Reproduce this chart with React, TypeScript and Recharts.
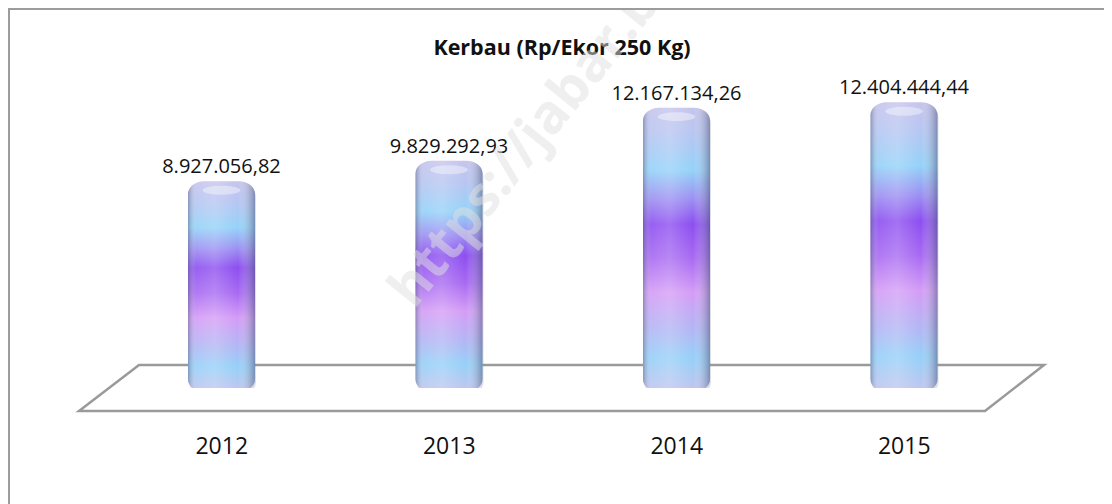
import React from 'react';
import { BarChart, Bar, XAxis, YAxis, LabelList } from 'recharts';

const years = ['2012', '2013', '2014', '2015'];
const prices = [8927056.82, 9829292.93, 12167134.26, 12404444.44];
const titleText = 'Kerbau (Rp/Ekor 250 Kg)';
const watermarkText = 'https://jabar.b';

const data = years.map((year, i) => ({ year, price: prices[i] }));

const W = 1104;
const H = 496;
const MARGIN = { top: 62, right: 94, left: 100, bottom: 0 };
const XAXIS_H = 116;
const FONT = '"Open Sans", "Noto Sans", sans-serif';

function formatId(v: number): string {
  const fixed = v.toFixed(2);
  const [intPart, dec] = fixed.split('.');
  const withDots = intPart.replace(/\B(?=(\d{3})+(?!\d))/g, '.');
  return withDots + ',' + dec;
}

const Cylinder = (props: any) => {
  const { x, y, width, height } = props;
  if (width == null || height == null) return null;
  const pad = 4;
  const top = y - pad;
  const h = height + pad * 2;
  return (
    <g>
      <rect x={x + 1} y={top + 3} width={width} height={h} rx={16} ry={13} fill="#7a7f99" opacity={0.25} />
      <rect x={x} y={top} width={width} height={h} rx={16} ry={13} fill="url(#cylV)" />
      <rect x={x} y={top} width={width} height={h} rx={16} ry={13} fill="url(#cylH)" />
      <ellipse cx={x + width / 2} cy={top + 9} rx={width * 0.28} ry={4.5} fill="#ffffff" opacity={0.4} />
    </g>
  );
};

const YearTick = (props: any) => {
  const { x, y, payload } = props;
  return (
    <text x={x} y={y + 58} dy="0.36em" textAnchor="middle" fontFamily={FONT} fontSize={23} fill="#111">
      {payload.value}
    </text>
  );
};

const ValueLabel = (props: any) => {
  const { x, y, width, value } = props;
  return (
    <text x={x + width / 2} y={y - 19} dy="0.36em" textAnchor="middle" fontFamily={FONT} fontSize={20} fill="#111">
      {formatId(value)}
    </text>
  );
};

export default function App() {
  return (
    <div style={{ position: 'relative', width: W, height: H }}>
      <svg width={W} height={H} style={{ position: 'absolute', left: 0, top: 0 }}>
        <polygon
          points="131,357 1036,357 977,403 71,403"
          fill="none"
          stroke="#9a9a9a"
          strokeWidth={2.5}
          strokeLinejoin="miter"
        />
        <text x={554} y={39} dy="0.36em" textAnchor="middle" fontFamily={FONT} fontWeight={700} fontSize={21.5} fill="#111">
          {titleText}
        </text>
      </svg>
      <div style={{ position: 'absolute', left: 0, top: 0 }}>
        <BarChart width={W} height={H} data={data} margin={MARGIN} barSize={67}>
          <defs>
            <linearGradient id="cylV" x1="0" y1="0" x2="0" y2="1">
              <stop offset="0%" stopColor="#c6c4ec" />
              <stop offset="10%" stopColor="#b6c6f2" />
              <stop offset="22%" stopColor="#94d2f8" />
              <stop offset="32%" stopColor="#9c90f2" />
              <stop offset="41%" stopColor="#8c4ef0" />
              <stop offset="53%" stopColor="#a86af2" />
              <stop offset="65%" stopColor="#d49cf6" />
              <stop offset="78%" stopColor="#b2b6f4" />
              <stop offset="88%" stopColor="#96d0f8" />
              <stop offset="100%" stopColor="#c4c4ee" />
            </linearGradient>
            <linearGradient id="cylH" x1="0" y1="0" x2="1" y2="0">
              <stop offset="0%" stopColor="#5a6488" stopOpacity={0.5} />
              <stop offset="12%" stopColor="#ffffff" stopOpacity={0.1} />
              <stop offset="40%" stopColor="#ffffff" stopOpacity={0.2} />
              <stop offset="75%" stopColor="#ffffff" stopOpacity={0} />
              <stop offset="100%" stopColor="#505a80" stopOpacity={0.55} />
            </linearGradient>
          </defs>
          <XAxis
            dataKey="year"
            height={XAXIS_H}
            axisLine={false}
            tickLine={false}
            tickSize={0}
            tickMargin={0}
            tick={<YearTick />}
            interval={0}
          />
          <YAxis hide domain={[0, 14000000]} allowDataOverflow />
          <Bar dataKey="price" shape={<Cylinder />} isAnimationActive={false}>
            <LabelList dataKey="price" content={<ValueLabel />} />
          </Bar>
        </BarChart>
      </div>
      <svg width={W} height={H} style={{ position: 'absolute', left: 0, top: 0, pointerEvents: 'none' }}>
        <text
          x={406}
          y={302}
          transform="rotate(-51 406 302)"
          fontFamily={FONT}
          fontWeight={700}
          fontSize={54}
          fill="#e0e0e0"
          opacity={0.5}
        >
          {watermarkText}
        </text>
      </svg>
      <div style={{ position: 'absolute', left: 0, top: 0, width: W, height: 2, background: '#9c9c9c' }} />
      <div style={{ position: 'absolute', left: 0, top: 0, width: 2, height: H, background: '#9c9c9c' }} />
    </div>
  );
}
